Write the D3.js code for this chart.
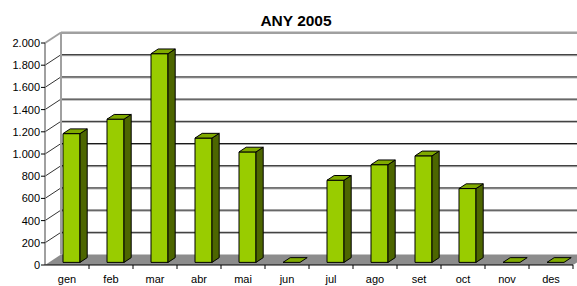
<!DOCTYPE html>
<html>
<head>
<meta charset="utf-8">
<script src="https://cdn.jsdelivr.net/npm/d3@7"></script>
<style>
  body { margin: 0; background: #fff; }
  text { font-family: Arial, "Liberation Sans", sans-serif; }
</style>
</head>
<body>
<div id="chart"></div>
<script>
// chart data
const months = ['gen', 'feb', 'mar', 'abr', 'mai', 'jun', 'jul', 'ago', 'set', 'oct', 'nov', 'des'];
const values = [1160, 1290, 1880, 1120, 995, 0, 740, 880, 960, 665, 0, 0];
const yTicks = [0, 200, 400, 600, 800, 1000, 1200, 1400, 1600, 1800, 2000];
const title = 'ANY 2005';

const width = 577, height = 286;

// 3D depth offset (front plane -> back wall)
const depthX = 16, depthY = -10.5;
const barFront = 0.25, barBack = 0.7;

const svg = d3.select('#chart').append('svg')
  .attr('width', width)
  .attr('height', height);

const x = d3.scaleBand().domain(months).range([45, 573]).paddingInner(0);
const y = d3.scaleLinear().domain([0, 2000]).range([265, 43]);

// project a front-plane point to depth z (0..1)
const P = (px, py, z) => [px + depthX * z, py + depthY * z];
const poly = pts => pts.map(p => p.join(',')).join(' ');

// Floor
const x0 = x.range()[0], x1 = x.range()[1];
svg.append('polygon')
  .attr('points', poly([P(x0, y(0), 0), P(x1, y(0), 0), P(x1, y(0), 1), P(x0, y(0), 1)]))
  .attr('fill', '#8c8c8c');

// Back wall gridlines
yTicks.forEach(t => {
  if (t === 0) return;
  const a = P(x0, y(t), 1);
  svg.append('line')
    .attr('x1', a[0]).attr('y1', a[1] + 1)
    .attr('x2', width).attr('y2', a[1] + 1)
    .attr('stroke', '#a0a0a0').attr('stroke-width', 1);
  svg.append('line')
    .attr('x1', a[0]).attr('y1', a[1])
    .attr('x2', width).attr('y2', a[1])
    .attr('stroke', t === 2000 ? '#a0a0a0' : '#1a1a1a').attr('stroke-width', t === 2000 ? 2 : 1);
});

// Left wall lines
yTicks.forEach(t => {
  if (t === 0) return;
  const a = P(x0, y(t), 0), b = P(x0, y(t), 1);
  svg.append('line')
    .attr('x1', a[0]).attr('y1', a[1])
    .attr('x2', b[0]).attr('y2', b[1])
    .attr('stroke', t === 2000 ? '#a0a0a0' : '#333').attr('stroke-width', t === 2000 ? 2 : 1);
});
// back wall left edge
const bl0 = P(x0, y(0), 1), bl1 = P(x0, y(2000), 1);
svg.append('line')
  .attr('x1', bl0[0]).attr('y1', bl0[1])
  .attr('x2', bl1[0]).attr('y2', bl1[1])
  .attr('stroke', '#a0a0a0').attr('stroke-width', 2);

// Bars
const faceW = 17, faceOff = 14;
const bars = svg.append('g').attr('class', 'bars');
months.forEach((m, i) => {
  const v = values[i];
  const bx0 = x(m) + faceOff, bx1 = bx0 + faceW;
  const yt = y(v), yb = y(0);
  const g = bars.append('g').attr('stroke', '#000').attr('stroke-width', 1).attr('stroke-linejoin', 'round');
  if (v > 0) {
    // front face
    g.append('polygon')
      .attr('points', poly([P(bx0, yt, barFront), P(bx1, yt, barFront), P(bx1, yb, barFront), P(bx0, yb, barFront)]))
      .attr('fill', '#99cc00');
    // side face
    g.append('polygon')
      .attr('points', poly([P(bx1, yt, barFront), P(bx1, yt, barBack), P(bx1, yb, barBack), P(bx1, yb, barFront)]))
      .attr('fill', '#4d6600');
  }
  // top face
  g.append('polygon')
    .attr('points', poly([P(bx0, yt, barFront), P(bx1, yt, barFront), P(bx1, yt, barBack), P(bx0, yt, barBack)]))
    .attr('fill', '#80aa00');
});

// Y axis (front)
svg.append('line')
  .attr('x1', x0).attr('y1', y(0))
  .attr('x2', x0).attr('y2', y(2000))
  .attr('stroke', '#808080').attr('stroke-width', 1.5);
const yAxis = svg.append('g');
yTicks.forEach(t => {
  yAxis.append('line')
    .attr('x1', x0 - 4).attr('y1', y(t))
    .attr('x2', x0).attr('y2', y(t))
    .attr('stroke', '#000');
  yAxis.append('text')
    .attr('x', x0 - 5).attr('y', y(t) + 4)
    .attr('text-anchor', 'end')
    .style('font-size', '11px')
    .attr('fill', '#000')
    .text(d3.format(',')(t).replace(/,/g, '.'));
});

// X axis (front)
svg.append('line')
  .attr('x1', x0).attr('y1', y(0))
  .attr('x2', x1).attr('y2', y(0))
  .attr('stroke', '#000');
const xAxis = svg.append('g');
months.forEach((m, i) => {
  xAxis.append('line')
    .attr('x1', x(m) + x.bandwidth()).attr('y1', y(0))
    .attr('x2', x(m) + x.bandwidth()).attr('y2', y(0) + 4)
    .attr('stroke', '#000');
  xAxis.append('text')
    .attr('x', x(m) + x.bandwidth() / 2)
    .attr('y', 283)
    .attr('text-anchor', 'middle')
    .style('font-size', '11px')
    .attr('fill', '#000')
    .text(m);
});

// Title
svg.append('text')
  .attr('x', 296).attr('y', 26)
  .attr('text-anchor', 'middle')
  .style('font-size', '15.5px')
  .style('font-weight', 'bold')
  .text(title);
</script>
</body>
</html>
